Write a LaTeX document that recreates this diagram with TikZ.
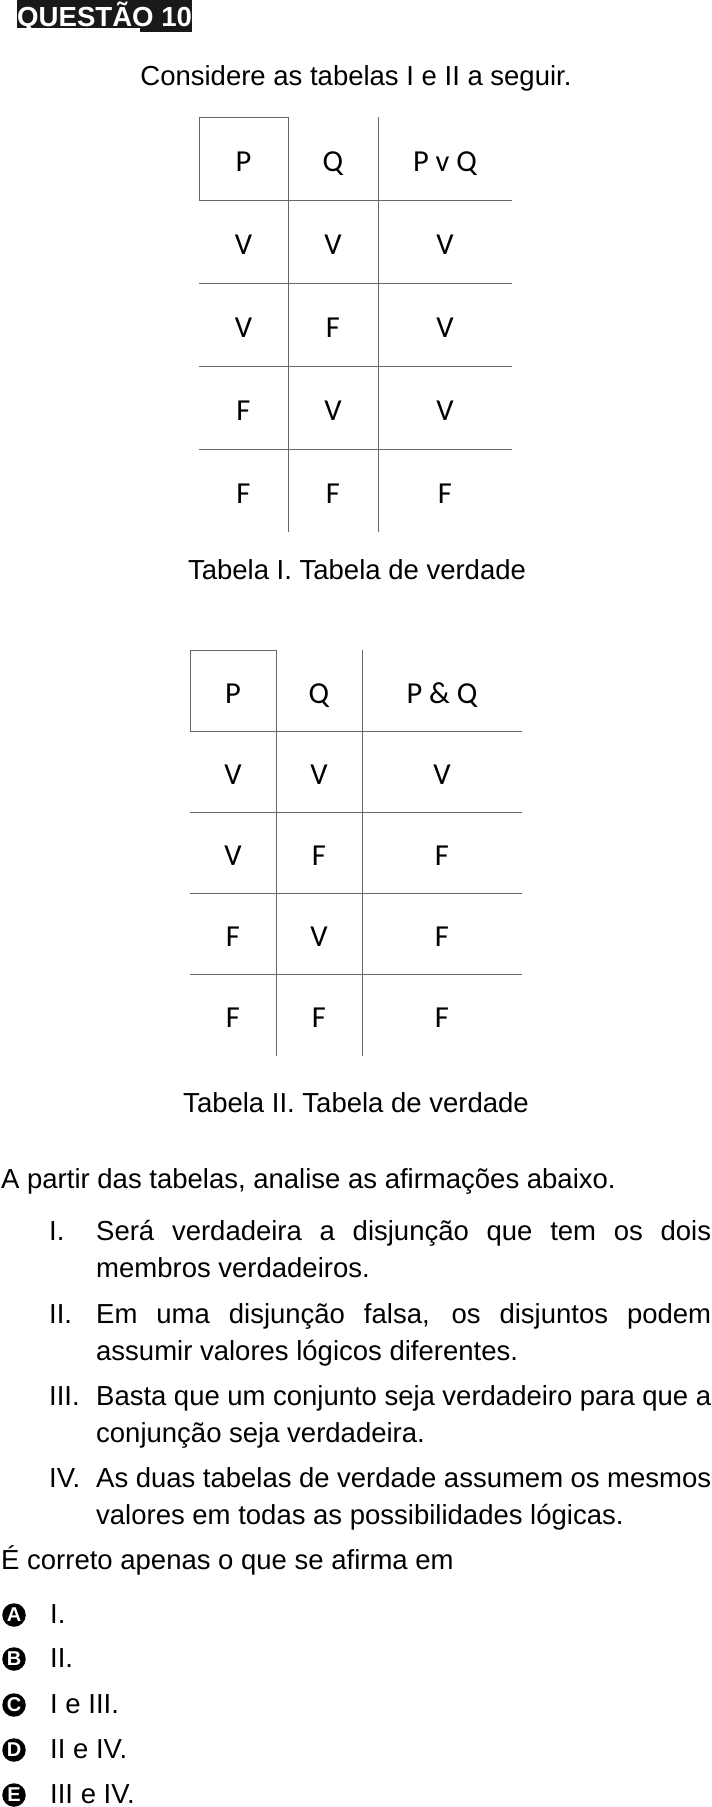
\documentclass[tikz,border=0pt]{standalone}
\usepackage{fontspec}
\setmainfont{Liberation Sans}
\newfontfamily\tabfont{Carlito}

\begin{document}
\begin{tikzpicture}[x=1pt, y=-1pt,
	rule/.style={black!60, line width=1pt},
	cell/.style={anchor=base, inner sep=0pt, font=\tabfont\fontsize{30.5}{30}\selectfont},
	body/.style={anchor=base west, inner sep=0pt, font=\fontsize{27.5}{37}\selectfont},
	caption/.style={anchor=base, inner sep=0pt, font=\fontsize{27.5}{33}\selectfont},
	optmark/.style={circle, fill=black, inner sep=0pt, minimum size=23.5pt, text=white, font=\bfseries\fontsize{20}{20}\selectfont}]
	\useasboundingbox (0, 0) rectangle (712, 1807);

	\fill[black!90] (17, 0) rectangle (192, 27.5);
	\fill[black!90] (140, 27) rectangle (192, 32);
	\node[anchor = base west, inner sep = 0pt, text = white, font = \bfseries\fontsize{27.6}{28}\selectfont] (title) at (17, 26) {QUESTÃO 10};

	\node[caption] (intro) at (356, 85) {Considere as tabelas I e II a seguir.};

	\draw[rule] (199, 117) rectangle (288, 200);
	\foreach \x in {288, 378}
		\draw[rule] (\x, 117) -- (\x, 532);
	\foreach \y in {200, 283, 366, 449}
		\draw[rule] (199, \y) -- (512, \y);
	\foreach \a/\b/\c [count = \r from 0] in {P/Q/P v Q, V/V/V, V/F/V, F/V/V, F/F/F} {
		\node[cell] (ta-\r-1) at (243.5, {171 + 83*\r}) {\a};
		\node[cell] (ta-\r-2) at (333, {171 + 83*\r}) {\b};
		\node[cell] (ta-\r-3) at (445, {171 + 83*\r}) {\c};
	}
	\node[caption] (capa) at (357, 579) {Tabela I. Tabela de verdade};

	\draw[rule] (190, 650) rectangle (276, 731);
	\foreach \x in {276, 362}
		\draw[rule] (\x, 650) -- (\x, 1056);
	\foreach \y in {731, 812, 893, 974}
		\draw[rule] (190, \y) -- (522, \y);
	\foreach \a/\b/\c [count = \r from 0] in {P/Q/P \& Q, V/V/V, V/F/F, F/V/F, F/F/F} {
		\node[cell] (tb-\r-1) at (233, {703 + 81.2*\r}) {\a};
		\node[cell] (tb-\r-2) at (319, {703 + 81.2*\r}) {\b};
		\node[cell] (tb-\r-3) at (442, {703 + 81.2*\r}) {\c};
	}
	\node[caption] (capb) at (356, 1112) {Tabela II. Tabela de verdade};

	\node[body] (lead) at (1, 1188) {A partir das tabelas, analise as afirmações abaixo.};

	\node[body] (n1) at (49, 1240) {I.};
	\node[body] (s1a) at (96, 1240) {\makebox[615pt][s]{Será verdadeira a disjunção que tem os dois}};
	\node[body] (s1b) at (96, 1277) {membros verdadeiros.};
	\node[body] (n2) at (49, 1323) {II.};
	\node[body] (s2a) at (96, 1323) {\makebox[615pt][s]{Em uma disjunção falsa, os disjuntos podem}};
	\node[body] (s2b) at (96, 1360) {assumir valores lógicos diferentes.};
	\node[body] (n3) at (49, 1405) {III.};
	\node[body] (s3a) at (96, 1405) {\makebox[615pt][s]{Basta que um conjunto seja verdadeiro para que a}};
	\node[body] (s3b) at (96, 1442) {conjunção seja verdadeira.};
	\node[body] (n4) at (49, 1487) {IV.};
	\node[body] (s4a) at (96, 1487) {\makebox[615pt][s]{As duas tabelas de verdade assumem os mesmos}};
	\node[body] (s4b) at (96, 1524) {valores em todas as possibilidades lógicas.};

	\node[body] (ask) at (1, 1569) {É correto apenas o que se afirma em};

	\foreach \l/\t/\y in {A/I./1623, B/II./1667, C/I e III./1713, D/II e IV./1758, E/III e IV./1803} {
		\node[optmark] (m\l) at (14, {\y - 8}) {\l};
		\node[body] (o\l) at (50, \y) {\t};
	}
\end{tikzpicture}
\end{document}
